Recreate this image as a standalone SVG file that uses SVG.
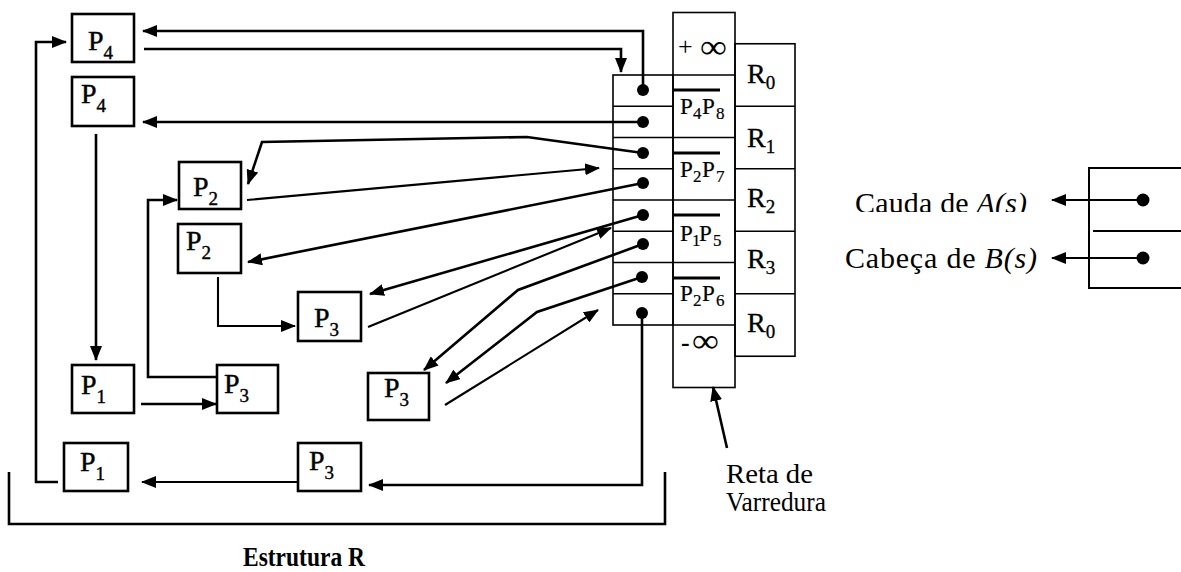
<svg xmlns="http://www.w3.org/2000/svg" width="1181" height="572" viewBox="0 0 1181 572">
<style>
.bg{fill:#fff}
.box{fill:#fff;stroke:#000;stroke-width:2.6}
.cell{fill:none;stroke:#000;stroke-width:1.6}
.lbl{font-family:"Liberation Serif","Times New Roman",serif;font-size:28px;fill:#000;stroke:#000;stroke-width:0.4}
.sub{font-size:19px}
.rl{font-family:"Liberation Serif","Times New Roman",serif;font-size:28px;fill:#000;stroke:#000;stroke-width:0.3}
.seg{font-family:"Liberation Serif","Times New Roman",serif;font-size:23px;fill:#000;stroke:#000;stroke-width:0.2}
.ssub{font-size:17px}
.con{fill:none;stroke:#000;stroke-width:2.6}
.thin{stroke-width:2.1}
.dot{fill:#000}
.txt{font-family:"Liberation Serif","Times New Roman",serif;fill:#000}
.ov{stroke:#000;stroke-width:3}
</style>
<defs>
<marker id="ah" markerUnits="userSpaceOnUse" markerWidth="15" markerHeight="12" refX="14" refY="6" orient="auto">
<path d="M0,0 L15,6 L0,12 z" fill="#000"/>
</marker>
<clipPath id="cutA"><rect x="800" y="150" width="300" height="62"/></clipPath>
</defs>
<rect class="bg" x="0" y="0" width="1181" height="572"/>

<g id="sweep-table">
<rect class="cell" x="613" y="75" width="60" height="250"/>
<path class="cell" d="M613,106.25H673M613,137.5H673M613,168.75H673M613,200H673M613,231.25H673M613,262.5H673M613,293.75H673"/>
<rect class="cell" x="673" y="12.5" width="62" height="375"/>
<path class="cell" d="M673,75H735M673,137.5H735M673,200H735M673,262.5H735M673,325H735"/>
<rect class="cell" x="735" y="43.75" width="60" height="312.5"/>
<path class="cell" d="M735,106.25H795M735,168.75H795M735,231.25H795M735,293.75H795"/>
<text class="txt" x="678" y="55" font-size="26">+</text>
<text class="txt" x="700" y="58" font-size="34" textLength="27" lengthAdjust="spacingAndGlyphs">∞</text>
<text class="txt" x="681" y="351" font-size="26" font-weight="bold">-</text>
<text class="txt" x="692" y="352" font-size="34" textLength="27" lengthAdjust="spacingAndGlyphs">∞</text>
<path class="ov" d="M673,90H720M673,153H720M673,215H720M673,278H720"/>
<text class="seg" y="114"><tspan x="680">P</tspan><tspan class="ssub" x="693" dy="5">4</tspan><tspan x="702" dy="-5">P</tspan><tspan class="ssub" x="716" dy="5">8</tspan></text>
<text class="seg" y="177"><tspan x="680">P</tspan><tspan class="ssub" x="693" dy="5">2</tspan><tspan x="702" dy="-5">P</tspan><tspan class="ssub" x="716" dy="5">7</tspan></text>
<text class="seg" y="241"><tspan x="680">P</tspan><tspan class="ssub" x="692" dy="5">1</tspan><tspan x="699" dy="-5">P</tspan><tspan class="ssub" x="713" dy="5">5</tspan></text>
<text class="seg" y="301"><tspan x="680">P</tspan><tspan class="ssub" x="693" dy="5">2</tspan><tspan x="702" dy="-5">P</tspan><tspan class="ssub" x="716" dy="5">6</tspan></text>
<text class="rl" x="747" y="83">R<tspan class="sub" dy="6">0</tspan></text>
<text class="rl" x="747" y="147">R<tspan class="sub" dy="6">1</tspan></text>
<text class="rl" x="747" y="207">R<tspan class="sub" dy="6">2</tspan></text>
<text class="rl" x="747" y="268">R<tspan class="sub" dy="6">3</tspan></text>
<text class="rl" x="747" y="332">R<tspan class="sub" dy="6">0</tspan></text>
<circle class="dot" cx="643" cy="90" r="6"/>
<circle class="dot" cx="643" cy="122" r="6"/>
<circle class="dot" cx="643" cy="153" r="6"/>
<circle class="dot" cx="643" cy="183" r="6"/>
<circle class="dot" cx="643" cy="215" r="6"/>
<circle class="dot" cx="643" cy="244" r="6"/>
<circle class="dot" cx="642" cy="277" r="6"/>
<circle class="dot" cx="642" cy="313" r="6"/>
</g>

<g id="n1"><rect class="box" x="72" y="14" width="62" height="48"/><text class="lbl" x="88" y="50">P<tspan class="sub" dy="9">4</tspan></text></g>
<g id="n2"><rect class="box" x="72" y="77" width="62" height="49"/><text class="lbl" x="81" y="103">P<tspan class="sub" dy="9">4</tspan></text></g>
<g id="n3"><rect class="box" x="179" y="162" width="62" height="47"/><text class="lbl" x="193" y="196">P<tspan class="sub" dy="9">2</tspan></text></g>
<g id="n4"><rect class="box" x="178" y="224" width="63" height="49"/><text class="lbl" x="186" y="250">P<tspan class="sub" dy="9">2</tspan></text></g>
<g id="n5"><rect class="box" x="298" y="292" width="63" height="49"/><text class="lbl" x="314" y="327">P<tspan class="sub" dy="9">3</tspan></text></g>
<g id="n6"><rect class="box" x="72" y="365" width="62" height="48"/><text class="lbl" x="81" y="394">P<tspan class="sub" dy="9">1</tspan></text></g>
<g id="n7"><rect class="box" x="217" y="365" width="61" height="48"/><text class="lbl" x="224" y="393">P<tspan class="sub" dy="9">3</tspan></text></g>
<g id="n8"><rect class="box" x="368" y="373" width="61" height="47"/><text class="lbl" x="384" y="397">P<tspan class="sub" dy="9">3</tspan></text></g>
<g id="n9"><rect class="box" x="64" y="443" width="64" height="48"/><text class="lbl" x="80" y="471">P<tspan class="sub" dy="9">1</tspan></text></g>
<g id="n10"><rect class="box" x="298" y="443" width="63" height="48"/><text class="lbl" x="309" y="470">P<tspan class="sub" dy="9">3</tspan></text></g>

<g id="legend">
<path class="cell" style="stroke-width:2" d="M1181,168H1089V288H1181M1093,231H1181"/>
<circle class="dot" cx="1143" cy="200" r="6.5"/>
<circle class="dot" cx="1143" cy="258" r="6.5"/>
<text class="txt" x="855" y="213" font-size="30" textLength="172" clip-path="url(#cutA)">Cauda de <tspan font-style="italic">A(s)</tspan></text>
<text class="txt" x="845" y="268" font-size="30" textLength="192">Cabeça de <tspan font-style="italic">B(s)</tspan></text>
</g>

<g id="labels">
<text class="txt" x="243" y="566" font-size="28" font-weight="bold" textLength="122" lengthAdjust="spacingAndGlyphs">Estrutura R</text>
<text class="txt" x="726" y="483" font-size="28" textLength="87" lengthAdjust="spacingAndGlyphs">Reta de</text>
<text class="txt" x="726" y="511" font-size="28" textLength="100" lengthAdjust="spacingAndGlyphs">Varredura</text>
<path class="con" d="M9,472V524H665V472"/>
</g>

<g id="connectors">
<path class="con" d="M643,90V31H143" marker-end="url(#ah)"/>
<path class="con" d="M144,49H621V72" marker-end="url(#ah)"/>
<path class="con" d="M643,122H143" marker-end="url(#ah)"/>
<path class="con" d="M643,153L527,137L262,142L248,184" marker-end="url(#ah)"/>
<path class="con thin" d="M247,200L599,168" marker-end="url(#ah)"/>
<path class="con" d="M643,183L248,262" marker-end="url(#ah)"/>
<path class="con" d="M643,215L370,294" marker-end="url(#ah)"/>
<path class="con thin" d="M368,327L611,228" marker-end="url(#ah)"/>
<path class="con" d="M643,244L518,290L424,370" marker-end="url(#ah)"/>
<path class="con" d="M642,277L537,312L446,383" marker-end="url(#ah)"/>
<path class="con thin" d="M445,405L598,310" marker-end="url(#ah)"/>
<path class="con" d="M642,313V485H369" marker-end="url(#ah)"/>
<path class="con thin" d="M298,482H142" marker-end="url(#ah)"/>
<path class="con" d="M58,482H36V42H66" marker-end="url(#ah)"/>
<path class="con" d="M96,134V360" marker-end="url(#ah)"/>
<path class="con" d="M141,404H216" marker-end="url(#ah)"/>
<path class="con" d="M217,377H148V200H177" marker-end="url(#ah)"/>
<path class="con thin" d="M218,277V326H295" marker-end="url(#ah)"/>
<path class="con thin" d="M1143,200H1052" marker-end="url(#ah)"/>
<path class="con thin" d="M1143,258H1052" marker-end="url(#ah)"/>
<path class="con" d="M727,448L713,387" marker-end="url(#ah)"/>
</g>
</svg>
